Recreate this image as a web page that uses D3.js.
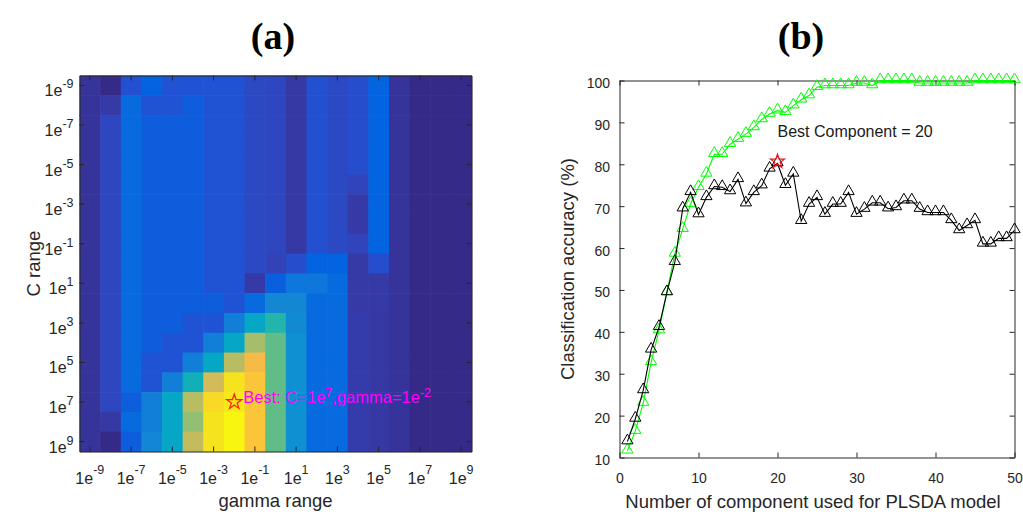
<!DOCTYPE html>
<html>
<head>
<meta charset="utf-8">
<script src="https://cdn.jsdelivr.net/npm/d3@7"></script>
<style>
  body { margin: 0; background: #fff; }
  svg text { font-family: Arial, "Liberation Sans", Helvetica, sans-serif; }
  .title { font-family: "Times New Roman", "Liberation Serif", serif !important; font-weight: bold; }
</style>
</head>
<body>
<svg id="fig" width="1023" height="514"></svg>
<script>
/* ── Data ─────────────────────────────── */

// (a) grid search, gamma (columns) x C (rows), exponents of 10
const gammaExp = [-9, -8, -7, -6, -5, -4, -3, -2, -1, 0, 1, 2, 3, 4, 5, 6, 7, 8, 9];
const cExp     = [-9, -8, -7, -6, -5, -4, -3, -2, -1, 0, 1, 2, 3, 4, 5, 6, 7, 8, 9];
const gridTicks = [-9, -7, -5, -3, -1, 1, 3, 5, 7, 9];
// normalised accuracy per cell, one row per C value (top = 1e-9)
const accGrid = [
  [0.025, 0.00, 0.09, 0.13, 0.095, 0.095, 0.095, 0.095, 0.075, 0.07, 0.035, 0.09, 0.075, 0.085, 0.13, 0.025, 0, 0, 0],
  [0.025, 0.04, 0.15, 0.095, 0.095, 0.115, 0.095, 0.095, 0.075, 0.07, 0.035, 0.09, 0.075, 0.085, 0.13, 0.025, 0, 0, 0],
  [0.025, 0.07, 0.15, 0.115, 0.115, 0.115, 0.095, 0.095, 0.075, 0.07, 0.035, 0.09, 0.075, 0.085, 0.13, 0.025, 0, 0, 0],
  [0.025, 0.07, 0.15, 0.115, 0.115, 0.115, 0.095, 0.095, 0.075, 0.07, 0.035, 0.09, 0.075, 0.085, 0.13, 0.025, 0, 0, 0],
  [0.025, 0.07, 0.15, 0.115, 0.115, 0.115, 0.095, 0.095, 0.075, 0.07, 0.035, 0.09, 0.075, 0.085, 0.13, 0.025, 0, 0, 0],
  [0.025, 0.07, 0.15, 0.115, 0.115, 0.115, 0.095, 0.095, 0.075, 0.07, 0.035, 0.09, 0.075, 0.065, 0.13, 0.025, 0, 0, 0],
  [0.025, 0.07, 0.15, 0.115, 0.115, 0.115, 0.095, 0.095, 0.075, 0.07, 0.035, 0.09, 0.075, 0.04, 0.13, 0.025, 0, 0, 0],
  [0.025, 0.07, 0.15, 0.115, 0.115, 0.115, 0.095, 0.095, 0.075, 0.07, 0.035, 0.09, 0.075, 0.04, 0.13, 0.025, 0, 0, 0],
  [0.025, 0.07, 0.15, 0.115, 0.115, 0.115, 0.095, 0.095, 0.075, 0.07, 0.035, 0.09, 0.075, 0.065, 0.13, 0.025, 0, 0, 0],
  [0.025, 0.07, 0.15, 0.115, 0.115, 0.115, 0.095, 0.095, 0.075, 0.06, 0.085, 0.13, 0.13, 0.04, 0.085, 0.025, 0, 0, 0],
  [0.025, 0.07, 0.15, 0.115, 0.115, 0.115, 0.095, 0.095, 0.04, 0.12, 0.20, 0.20, 0.15, 0.04, 0.04, 0.025, 0, 0, 0],
  [0.025, 0.07, 0.15, 0.115, 0.115, 0.115, 0.115, 0.095, 0.15, 0.26, 0.26, 0.15, 0.15, 0.04, 0.04, 0.025, 0, 0, 0],
  [0.025, 0.07, 0.15, 0.115, 0.115, 0.095, 0.095, 0.23, 0.38, 0.47, 0.27, 0.15, 0.15, 0.045, 0.035, 0.025, 0, 0, 0],
  [0.025, 0.07, 0.15, 0.115, 0.095, 0.095, 0.23, 0.38, 0.67, 0.565, 0.29, 0.15, 0.15, 0.045, 0.035, 0.025, 0, 0, 0],
  [0.025, 0.07, 0.15, 0.095, 0.095, 0.23, 0.38, 0.70, 0.82, 0.565, 0.29, 0.15, 0.15, 0.045, 0.035, 0.025, 0, 0, 0],
  [0.025, 0.07, 0.15, 0.095, 0.23, 0.43, 0.75, 0.95, 0.86, 0.565, 0.29, 0.15, 0.15, 0.045, 0.035, 0.025, 0, 0, 0],
  [0.025, 0.07, 0.115, 0.23, 0.38, 0.70, 0.92, 0.96, 0.86, 0.565, 0.29, 0.15, 0.15, 0.045, 0.035, 0.025, 0, 0, 0],
  [0.025, 0.035, 0.15, 0.23, 0.38, 0.635, 0.95, 0.99, 0.86, 0.565, 0.29, 0.15, 0.15, 0.045, 0.035, 0.025, 0, 0, 0],
  [0.025, 0.00, 0.115, 0.26, 0.38, 0.72, 0.95, 0.99, 0.86, 0.565, 0.29, 0.15, 0.15, 0.045, 0.035, 0.025, 0, 0, 0]
];
const bestC = 7, bestGamma = -2;

// (b) accuracy vs number of PLSDA components
const nComp = [1, 2, 3, 4, 5, 6, 7, 8, 9, 10, 11, 12, 13, 14, 15, 16, 17, 18, 19, 20,
  21, 22, 23, 24, 25, 26, 27, 28, 29, 30, 31, 32, 33, 34, 35, 36, 37, 38, 39, 40,
  41, 42, 43, 44, 45, 46, 47, 48, 49, 50];
const calAcc = [11.6, 16.3, 23.0, 32.7, 40.3, 49.4, 58.6, 64.5, 70.5, 74.5,
  77.7, 82.4, 82.4, 84.8, 86.0, 87.2, 88.8, 90.7, 92.0, 92.8,
  92.4, 94.0, 95.4, 96.4, 98.4, 98.8, 98.8, 98.8, 98.8, 99.4,
  99.4, 98.8, 100, 100, 100, 100, 100, 99.4, 99.4, 99.4,
  99.4, 99.4, 99.4, 99.4, 100, 100, 100, 100, 100, 100];
const cvAcc = [13.8, 19.2, 26.0, 35.7, 41.1, 49.4, 56.6, 69.4, 73.3, 68.0,
  72.1, 74.7, 74.5, 73.5, 76.4, 70.6, 73.3, 74.9, 78.9, 80.2,
  75.0, 77.7, 66.4, 70.5, 72.1, 68.1, 70.5, 70.5, 73.3, 68.1,
  69.3, 70.8, 70.8, 69.4, 69.7, 71.3, 71.3, 69.3, 68.5, 68.5,
  68.5, 66.6, 64.2, 65.4, 66.6, 61.0, 61.0, 62.3, 62.3, 64.2];
const bestComp = 20;
const accTicks = [10, 20, 30, 40, 50, 60, 70, 80, 90, 100];
const compTicks = [0, 10, 20, 30, 40, 50];

// parula colour map (subsampled from the 64-entry table)
const parulaIdx = [1, 3, 5, 7, 9, 13, 17, 21, 25, 29, 33, 37, 41, 45, 49, 53, 57, 61, 64];
const parulaHex = ['#352a87', '#3637a0', '#3243ba', '#2053d4', '#0363e1', '#0d75dc', '#1485d4',
  '#0998d1', '#06a7c6', '#15b1b4', '#38b99e', '#65be86', '#92bf73', '#b7bd64', '#d9ba56',
  '#f8bb44', '#fcce2e', '#f5e41d', '#f9fb0e'];

/* ── Setup ────────────────────────────── */

const svg = d3.select('#fig');
const ink = '#262626';

function expLabel(sel, supDy, supSize) {
  sel.each(function (e) {
    const t = d3.select(this).text(null);
    t.append('tspan').text('1e');
    t.append('tspan').attr('dy', supDy).attr('font-size', supSize).text(e);
  });
}

/* ── (a) heatmap ──────────────────────── */

const pa = { left: 79.5, right: 471.5, top: 75.5, bottom: 451.5 };
const gx = d3.scaleBand().domain(gammaExp).range([pa.left, pa.right]);
const gy = d3.scaleBand().domain(cExp).range([pa.top, pa.bottom]);
const colour = d3.scaleLinear()
  .domain(parulaIdx.map(i => (i - 1) / 63))
  .range(parulaHex)
  .interpolate(d3.interpolateRgb)
  .clamp(true);

const cells = cExp.flatMap((c, i) => gammaExp.map((g, j) => ({ c, g, v: accGrid[i][j] })));

const ga = svg.append('g');
ga.append('g').selectAll('rect').data(cells).join('rect')
  .attr('x', d => gx(d.g)).attr('y', d => gy(d.c))
  .attr('width', gx.bandwidth() + 0.6).attr('height', gy.bandwidth() + 0.6)
  .attr('fill', d => colour(d.v));

ga.append('g').attr('transform', `translate(0,${pa.bottom})`)
  .call(d3.axisBottom(gx).tickValues(gridTicks).tickSizeInner(-5).tickSizeOuter(0))
  .call(g => g.selectAll('.tick text').attr('y', 32).attr('dy', null).call(expLabel, -9.5, 12.5));
ga.append('g').attr('transform', `translate(${pa.left},0)`)
  .call(d3.axisLeft(gy).tickValues(gridTicks).tickSizeInner(-5).tickSizeOuter(0))
  .call(g => g.selectAll('.tick text').attr('x', -6).attr('y', 11).attr('dy', null).call(expLabel, -8, 12.5));
ga.append('g').attr('transform', `translate(0,${pa.top})`)
  .call(d3.axisTop(gx).tickValues(gridTicks).tickSizeInner(-5).tickSizeOuter(0).tickFormat(''));
ga.append('g').attr('transform', `translate(${pa.right},0)`)
  .call(d3.axisRight(gy).tickValues(gridTicks).tickSizeInner(-5).tickSizeOuter(0).tickFormat(''));
ga.selectAll('.tick text').attr('font-size', 16);
ga.selectAll('g').filter(function () { return this.hasAttribute('fill'); }).attr('color', ink);

// best point
const sx = gx(bestGamma) + gx.bandwidth() / 2, sy = gy(bestC) + gy.bandwidth() / 2;
ga.append('path').attr('d', d3.symbol(d3.symbolStar, 72)())
  .attr('transform', `translate(${sx},${sy})`)
  .attr('fill', 'none').attr('stroke', '#ff2000').attr('stroke-width', 1.2);
const bt = ga.append('text').attr('x', sx + 9).attr('y', sy + 1)
  .attr('font-size', 16.5).attr('fill', '#ff00ff');
bt.append('tspan').text('Best: C=1e');
bt.append('tspan').attr('dy', -6).attr('font-size', 12.5).text(bestC);
bt.append('tspan').attr('dy', 6).text(',gamma=1e');
bt.append('tspan').attr('dy', -6).attr('font-size', 12.5).text(bestGamma);

ga.append('text').attr('x', (pa.left + pa.right) / 2).attr('y', 507)
  .attr('text-anchor', 'middle').attr('font-size', 18.5).attr('fill', ink).text('gamma range');
ga.append('text').attr('transform', `translate(40,${(pa.top + pa.bottom) / 2}) rotate(-90)`)
  .attr('text-anchor', 'middle').attr('font-size', 18.5).attr('fill', ink).text('C range');
ga.append('text').attr('class', 'title').attr('x', 273).attr('y', 49)
  .attr('text-anchor', 'middle').attr('font-size', 38).text('(a)');

/* ── (b) accuracy curves ─────────────── */

const pb = { left: 619.5, right: 1014.5, top: 80.5, bottom: 457.5 };
const xb = d3.scaleLinear().domain([0, 50]).range([pb.left, pb.right]);
const yb = d3.scaleLinear().domain([10, 100]).range([pb.bottom, pb.top]);

const gb = svg.append('g');
gb.append('g').attr('transform', `translate(0,${pb.bottom})`)
  .call(d3.axisBottom(xb).tickValues(compTicks).tickSizeInner(-5).tickSizeOuter(0).tickPadding(15.5));
gb.append('g').attr('transform', `translate(${pb.left},0)`)
  .call(d3.axisLeft(yb).tickValues(accTicks).tickSizeInner(-5).tickSizeOuter(0).tickPadding(9.5))
  .call(g => g.selectAll('.tick text').attr('dy', '0.5em'));
gb.append('g').attr('transform', `translate(0,${pb.top})`)
  .call(d3.axisTop(xb).tickValues(compTicks).tickSizeInner(-5).tickSizeOuter(0).tickFormat(''));
gb.append('g').attr('transform', `translate(${pb.right},0)`)
  .call(d3.axisRight(yb).tickValues(accTicks).tickSizeInner(-5).tickSizeOuter(0).tickFormat(''));
gb.selectAll('.tick text').attr('font-size', 14);
gb.selectAll('g').filter(function () { return this.hasAttribute('fill'); }).attr('color', ink);

const line = d3.line().x((d, i) => xb(nComp[i])).y(d => yb(d));
const tri = d3.symbol(d3.symbolTriangle, 55)();

function series(values, colourStr) {
  const g = gb.append('g');
  g.append('path').datum(values).attr('d', line)
    .attr('fill', 'none').attr('stroke', colourStr).attr('stroke-width', 1.1);
  g.selectAll('path.mk').data(values).join('path').attr('class', 'mk')
    .attr('d', tri)
    .attr('transform', (d, i) => `translate(${xb(nComp[i])},${yb(d) - 1})`)
    .attr('fill', 'none').attr('stroke', colourStr).attr('stroke-width', 1);
}
series(calAcc, '#00ff00');
series(cvAcc, '#000000');

gb.append('path').attr('d', d3.symbol(d3.symbolStar, 62)())
  .attr('transform', `translate(${xb(bestComp)},${yb(cvAcc[bestComp - 1]) - 2})`)
  .attr('fill', 'none').attr('stroke', '#ff1010').attr('stroke-width', 1.1);

gb.append('text').attr('x', xb(bestComp)).attr('y', yb(88)).attr('dy', '0.36em')
  .attr('font-size', 16).attr('fill', '#1a1a1a').text(`Best Component = ${bestComp}`);

gb.append('text').attr('x', 813).attr('y', 508)
  .attr('text-anchor', 'middle').attr('font-size', 18.5).attr('fill', ink)
  .text('Number of component used for PLSDA model');
gb.append('text').attr('transform', `translate(574,${(pb.top + pb.bottom) / 2}) rotate(-90)`)
  .attr('text-anchor', 'middle').attr('font-size', 18.5).attr('fill', ink)
  .text('Classification accuracy (%)');
gb.append('text').attr('class', 'title').attr('x', 801).attr('y', 49)
  .attr('text-anchor', 'middle').attr('font-size', 38).text('(b)');
</script>
</body>
</html>
